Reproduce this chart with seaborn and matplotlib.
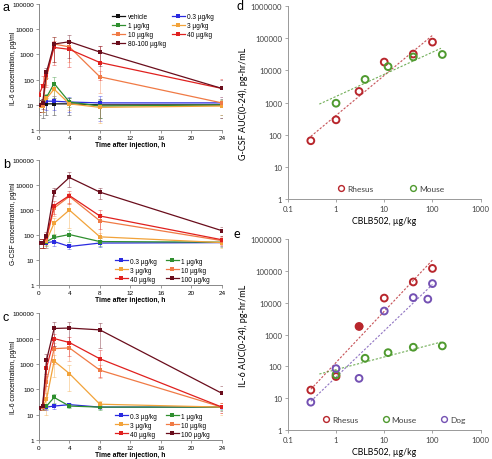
import numpy as np
import pandas as pd
import matplotlib
matplotlib.use("Agg")
import matplotlib.pyplot as plt
from matplotlib.lines import Line2D
from matplotlib.ticker import FixedLocator, FixedFormatter, NullLocator
import seaborn as sns

# ---- time-course data (panels a-c) ----
times = [0, 0.5, 1, 2, 4, 8, 24]

doses_a = ["vehicle", "0.3 µg/kg", "1 µg/kg", "3 µg/kg", "10 µg/kg", "40 µg/kg", "80-100 µg/kg"]
il6_a = [
    [10, 10, 11, 11, 11, 10, 10],
    [10, 11, 14, 14, 13, 12, 12],
    [10, 10, 20, 70, 13, 9, 10],
    [9, 9, 18, 42, 11, 8, 9],
    [10, 10, 120, 2600, 2000, 130, 12],
    [25, 55, 150, 1900, 1600, 480, 45],
    [10, 12, 200, 2600, 3200, 1250, 45],
]
il6_a_sd = [
    [6, 7, 7, 7, 7, 7, 7],
    [5, 6, 8, 8, 8, 10, 9],
    [5, 5, 8, 60, 5, 6, 6],
    [4, 4, 6, 20, 5, 6, 6],
    [5, 5, 60, 2500, 1500, 100, 8],
    [40, 90, 100, 1500, 1500, 1700, 60],
    [5, 5, 80, 2500, 2500, 900, 50],
]

doses_bc = ["0.3 µg/kg", "1 µg/kg", "3 µg/kg", "10 µg/kg", "40 µg/kg", "100 µg/kg"]
gcsf_b = [
    [50, 50, 50, 55, 35, 48, 50],
    [50, 50, 55, 80, 105, 55, 52],
    [50, 50, 60, 300, 1000, 85, 50],
    [50, 50, 70, 1200, 3500, 370, 60],
    [50, 50, 80, 1500, 3800, 580, 65],
    [50, 50, 90, 5500, 20000, 5200, 150],
]
gcsf_b_sd = [
    [20, 20, 20, 20, 8, 15, 15],
    [20, 20, 20, 30, 50, 20, 20],
    [20, 20, 30, 200, 900, 40, 20],
    [20, 20, 30, 600, 1500, 300, 25],
    [20, 20, 30, 800, 2000, 400, 25],
    [20, 20, 40, 2000, 12000, 2500, 60],
]
il6_c = [
    [18, 20, 20, 22, 25, 20, 20],
    [18, 20, 22, 48, 22, 20, 20],
    [18, 20, 40, 1300, 420, 26, 20],
    [18, 20, 200, 4000, 4300, 570, 20],
    [18, 22, 700, 10000, 7000, 1600, 20],
    [18, 22, 1400, 25000, 26000, 22000, 70],
]
il6_c_sd = [
    [3, 4, 5, 5, 4, 3, 3],
    [3, 4, 5, 20, 4, 5, 4],
    [3, 4, 30, 1000, 500, 8, 10],
    [3, 4, 150, 3000, 3000, 300, 8],
    [3, 4, 600, 5000, 5000, 1800, 8],
    [3, 5, 1000, 20000, 20000, 20000, 60],
]

# ---- AUC data (panels d-e) ----
rhesus_dose = [0.3, 1, 3, 10, 40, 100]
mouse_dose = [1, 4, 12, 40, 160]
dog_dose = [0.3, 1, 3, 10, 40, 80, 100]
gcsf_auc_rhesus = [65, 290, 2200, 18000, 32000, 75000]
gcsf_auc_mouse = [950, 5200, 13000, 26000, 31000]
il6_auc_rhesus = [18, 48, 1800, 14000, 45000, 120000]
il6_auc_mouse = [55, 180, 270, 400, 440]
il6_auc_dog = [7.5, 85, 42, 5500, 14500, 13000, 40000]

col_a = ["#111111", "#2a2ae0", "#2f8f2f", "#f2a33a", "#f07a45", "#e0201e", "#6a0d1c"]
col_bc = col_a[1:]
sp_col = {"Rhesus": "#b8262c", "Mouse": "#4f9a2f", "Dog": "#7451b3"}

plt.rcParams["font.family"] = ["Liberation Sans", "DejaVu Sans"]
fig = plt.figure(figsize=(4.92, 4.60), dpi=100)


def timecourse(rect, labels, values, sds, colors, ylabel, order, loc, anchor, colsp, letter, ly):
    ax = fig.add_axes(rect)
    rows = []
    for lab, vals in zip(labels, values):
        for t, v in zip(times, vals):
            rows.append({"time": t, "value": v, "dose": lab})
    df = pd.DataFrame(rows)
    sns.lineplot(data=df, x="time", y="value", hue="dose", hue_order=labels,
                 palette=colors, marker="s", markersize=2.4, markeredgewidth=0,
                 linewidth=0.9, legend=False, ax=ax, zorder=3)
    for vals, sd, c in zip(values, sds, colors):
        v = np.array(vals, float)
        s = np.array(sd, float)
        lo = np.minimum(s, 0.8 * v)
        ax.errorbar(times, v, yerr=[lo, s], fmt="none", ecolor=c, alpha=0.45,
                    elinewidth=0.6, capsize=1.5, capthick=0.6, zorder=2)
    ax.set_yscale("log")
    ax.set_ylim(1, 100000)
    ax.set_xlim(0, 24)
    ax.yaxis.set_major_locator(FixedLocator([1, 10, 100, 1000, 10000, 100000]))
    ax.yaxis.set_major_formatter(FixedFormatter(["1", "10", "100", "1000", "10000", "100000"]))
    ax.yaxis.set_minor_locator(NullLocator())
    ax.set_xticks([0, 4, 8, 12, 16, 20, 24])
    ax.tick_params(labelsize=4.6, length=2, width=0.6, color="#888888", pad=1.5)
    for s in ["top", "right"]:
        ax.spines[s].set_visible(False)
    for s in ["left", "bottom"]:
        ax.spines[s].set_color("#888888")
        ax.spines[s].set_linewidth(0.7)
    ax.set_xlabel("Time after injection, h", fontsize=4.9, fontweight="bold", labelpad=0.5)
    ax.set_ylabel(ylabel, fontsize=4.8)
    ax.yaxis.set_label_coords(-0.12, 0.5)
    handles = [Line2D([], [], color=colors[i], marker="s", markersize=2.4,
                      markeredgewidth=0, linewidth=0.9, label=labels[i]) for i in order]
    ax.legend(handles=handles, ncol=2, loc=loc, bbox_to_anchor=anchor, frameon=False,
              fontsize=4.7, handlelength=2.0, columnspacing=colsp, labelspacing=0.3,
              handletextpad=0.4, borderaxespad=0)
    fig.text(0.006, ly, letter, fontsize=9, va="top")
    return ax


timecourse([0.079, 0.715, 0.372, 0.274], doses_a, il6_a, il6_a_sd, col_a,
           "IL-6 concentration, pg/ml", [0, 2, 4, 6, 1, 3, 5], "upper left", (0.385, 0.95), 0.9, "a", 0.995)
timecourse([0.079, 0.378, 0.372, 0.272], doses_bc, gcsf_b, gcsf_b_sd, col_bc,
           "G-CSF concentration, pg/ml", [0, 2, 4, 1, 3, 5], "lower left", (0.40, 0.0), 1.3, "b", 0.655)
timecourse([0.079, 0.041, 0.372, 0.276], doses_bc, il6_c, il6_c_sd, col_bc,
           "IL-6 concentration, pg/ml", [0, 2, 4, 1, 3, 5], "lower left", (0.40, 0.0), 1.3, "c", 0.322)


def auc_panel(rect, series, ylabel, letter, lx, ly, anchor, colsp):
    ax = fig.add_axes(rect)
    rows = []
    for name, (xs, ys, xr) in series.items():
        for x, y in zip(xs, ys):
            rows.append({"dose": x, "auc": y, "species": name})
    df = pd.DataFrame(rows)
    for name, (xs, ys, xr) in series.items():
        k, b = np.polyfit(np.log10(xs), np.log10(ys), 1)
        xx = np.array(xr, float)
        ax.plot(xx, 10 ** (b + k * np.log10(xx)), ls=(0, (2, 1.5)), lw=0.8,
                color=sp_col[name], alpha=0.8, zorder=2)
    sns.scatterplot(data=df, x="dose", y="auc", hue="species", hue_order=list(series),
                    palette=sp_col, marker="o", s=24, facecolor="none",
                    linewidth=1.4, legend=False, ax=ax, zorder=3)
    for coll in ax.collections:
        coll.set_facecolor("none")
        coll.set_edgecolor([sp_col[s] for s in df["species"]])
    ax.set_xscale("log")
    ax.set_yscale("log")
    ax.set_xlim(0.1, 1000)
    ax.set_ylim(1, 1000000)
    ax.xaxis.set_major_locator(FixedLocator([0.1, 1, 10, 100, 1000]))
    ax.xaxis.set_major_formatter(FixedFormatter(["0.1", "1", "10", "100", "1000"]))
    ax.yaxis.set_major_locator(FixedLocator([1, 10, 100, 1000, 10000, 100000, 1000000]))
    ax.yaxis.set_major_formatter(FixedFormatter(["1", "10", "100", "1000", "10000", "100000", "1000000"]))
    ax.xaxis.set_minor_locator(NullLocator())
    ax.yaxis.set_minor_locator(NullLocator())
    ax.tick_params(labelsize=5.6, length=2, width=0.6, color="#999999", labelcolor="#404040", pad=2)
    for s in ["top", "right"]:
        ax.spines[s].set_visible(False)
    for s in ["left", "bottom"]:
        ax.spines[s].set_color("#999999")
        ax.spines[s].set_linewidth(0.7)
    ax.set_xlabel("CBLB502, µg/kg", fontsize=6.3, labelpad=3)
    ax.set_ylabel(ylabel, fontsize=6.5, labelpad=2)
    handles = [Line2D([], [], ls="none", marker="o", markersize=4.2, markerfacecolor="none",
                      markeredgecolor=sp_col[n], markeredgewidth=1.0, label=n) for n in series]
    ax.legend(handles=handles, ncol=len(handles), loc="lower center", bbox_to_anchor=anchor,
              frameon=False, handlelength=0.8, handletextpad=0.3, columnspacing=colsp,
              borderaxespad=0, prop={"family": "Lato", "size": 6}, labelcolor="#404040")
    fig.text(lx, ly, letter, fontsize=9, va="top")
    return ax


plt.rcParams["font.family"] = ["Lato", "DejaVu Sans"]
auc_panel([0.585, 0.565, 0.392, 0.42],
          {"Rhesus": (rhesus_dose, gcsf_auc_rhesus, [0.3, 100]),
           "Mouse": (mouse_dose, gcsf_auc_mouse, [0.45, 150])},
          "G-CSF AUC(0-24), pg-hr/mL", "d", 0.481, 1.0, (0.535, 0.02), 4.4)
ax_e = auc_panel([0.585, 0.063, 0.392, 0.415],
                 {"Rhesus": (rhesus_dose, il6_auc_rhesus, [0.3, 100]),
                  "Mouse": (mouse_dose, il6_auc_mouse, [0.45, 150]),
                  "Dog": (dog_dose, il6_auc_dog, [0.3, 100])},
                 "IL-6 AUC(0-24), pg-hr/mL", "e", 0.474, 0.505, (0.55, 0.02), 2.9)
# filled rhesus point at 3 µg/kg
ax_e.plot([3], [1800], "o", color=sp_col["Rhesus"], markersize=4.6, zorder=4)

fig.savefig("out.png", dpi=100)
